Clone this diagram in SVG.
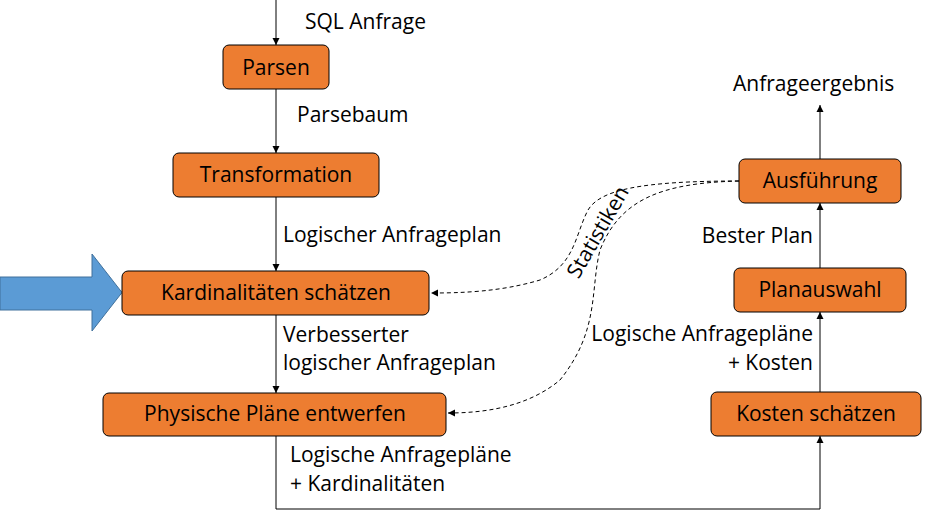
<svg xmlns="http://www.w3.org/2000/svg" width="931" height="510" viewBox="0 0 931 510">
<style>
.n{fill:#ed7d31;stroke:#000;stroke-width:1}
.t{font-family:"Open Sans",sans-serif;font-size:21px;fill:#000}
.c{fill:none;stroke:#000;stroke-width:1}
.d{fill:none;stroke:#000;stroke-width:1;stroke-dasharray:4 3}
</style>
<defs>
<marker id="a" markerWidth="8" markerHeight="8" refX="7" refY="4" orient="auto" markerUnits="userSpaceOnUse"><path d="M0,0.5 L7,4 L0,7.5 Z" fill="#000"/></marker>
</defs>
<path d="M0,277 H92 V254 L122,292.5 L92,331 V310 H0 Z" fill="#5b9bd5" stroke="#41719c"/>
<g id="connectors">
<path class="c" d="M276,0 V45" marker-end="url(#a)"/>
<path class="c" d="M276,89 V153" marker-end="url(#a)"/>
<path class="c" d="M276,197 V271" marker-end="url(#a)"/>
<path class="c" d="M276,315 V393" marker-end="url(#a)"/>
<path class="c" d="M276,436 V509 H820 V436" marker-end="url(#a)"/>
<path class="c" d="M820,392 V312" marker-end="url(#a)"/>
<path class="c" d="M820,268 V203" marker-end="url(#a)"/>
<path class="c" d="M820,159 V105" marker-end="url(#a)"/>
<path class="d" d="M739,181 C640,181 600,190 588,210 C575,235 575,265 540,280 C500,292 460,293 431,293" marker-end="url(#a)"/>
<path class="d" d="M739,181 C660,183 620,200 600,250 C590,290 600,330 560,380 C530,405 490,413 448,413" marker-end="url(#a)"/>
<text class="t" transform="translate(598,232) rotate(-60)" text-anchor="middle" dy="7">Statistiken</text>
</g>
<g id="parsen"><rect class="n" x="223" y="45" width="106" height="44" rx="6"/><text class="t" x="276" y="75" text-anchor="middle">Parsen</text></g>
<g id="transformation"><rect class="n" x="173" y="153" width="206" height="44" rx="6"/><text class="t" x="276" y="182" text-anchor="middle">Transformation</text></g>
<g id="kardinalitaeten"><rect class="n" x="122" y="271" width="307" height="44" rx="6"/><text class="t" x="276" y="300" text-anchor="middle">Kardinalitäten schätzen</text></g>
<g id="physisch"><rect class="n" x="103" y="393" width="343" height="43" rx="6"/><text class="t" x="275" y="421" text-anchor="middle">Physische Pläne entwerfen</text></g>
<g id="ausfuehrung"><rect class="n" x="739" y="159" width="162" height="44" rx="6"/><text class="t" x="820" y="188" text-anchor="middle">Ausführung</text></g>
<g id="planauswahl"><rect class="n" x="734" y="268" width="172" height="44" rx="6"/><text class="t" x="820" y="297" text-anchor="middle">Planauswahl</text></g>
<g id="kosten"><rect class="n" x="711" y="392" width="210" height="44" rx="6"/><text class="t" x="816" y="421" text-anchor="middle">Kosten schätzen</text></g>
<g id="labels">
<text class="t" x="305" y="29">SQL Anfrage</text>
<text class="t" x="297" y="122">Parsebaum</text>
<text class="t" x="283" y="242">Logischer Anfrageplan</text>
<text class="t" x="283" y="342">Verbesserter</text>
<text class="t" x="283" y="370">logischer Anfrageplan</text>
<text class="t" x="290" y="462">Logische Anfragepläne</text>
<text class="t" x="290" y="491">+ Kardinalitäten</text>
<text class="t" x="733" y="91">Anfrageergebnis</text>
<text class="t" x="813" y="243" text-anchor="end">Bester Plan</text>
<text class="t" x="813" y="341" text-anchor="end">Logische Anfragepläne</text>
<text class="t" x="813" y="370" text-anchor="end">+ Kosten</text>
</g>
</svg>
